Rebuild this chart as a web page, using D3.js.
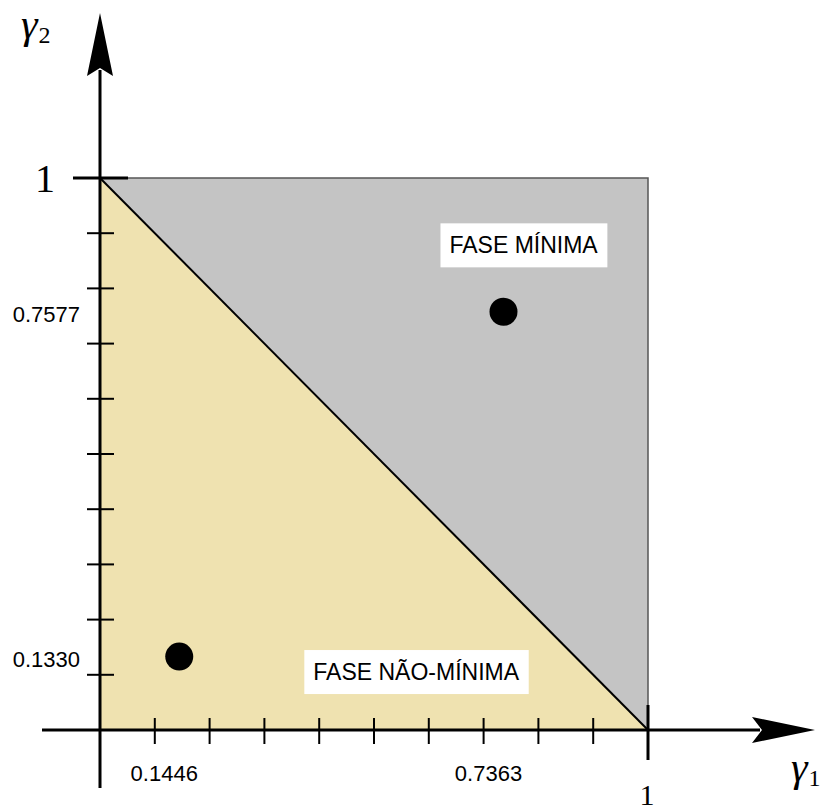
<!DOCTYPE html>
<html>
<head>
<meta charset="utf-8">
<script src="https://cdn.jsdelivr.net/npm/d3@7/dist/d3.min.js"></script>
<style>
  html, body { margin: 0; padding: 0; background: #fff; }
  svg { display: block; }
</style>
</head>
<body>
<svg id="chart" width="829" height="812"></svg>
<script>
// Minor ticks on both axes (tenths of the unit square)
const minorTicks = [0.1, 0.2, 0.3, 0.4, 0.5, 0.6, 0.7, 0.8, 0.9];
// Plant parameter points (gamma1, gamma2)
const gamma1Values = [0.1446, 0.7363];
const gamma2Values = [0.1330, 0.7577];
// Labelled coordinates on each axis
const xLabelValues = ["0.1446", "0.7363"];
const yLabelValues = ["0.7577", "0.1330"];
// Region names
const regionNames = ["FASE MÍNIMA", "FASE NÃO-MÍNIMA"];

const svg = d3.select("#chart");
const x = d3.scaleLinear().domain([0, 1]).range([100, 648]);
const y = d3.scaleLinear().domain([0, 1]).range([730, 178]);

const pt = (a, b) => [x(a), y(b)];
const line = d3.line();

// Minimum-phase region (above the diagonal)
svg.append("path")
  .attr("d", line([pt(0, 1), pt(1, 1), pt(1, 0)]) + "Z")
  .attr("fill", "#c4c4c4");
// Non-minimum-phase region (below the diagonal)
svg.append("path")
  .attr("d", line([pt(0, 0), pt(0, 1), pt(1, 0)]) + "Z")
  .attr("fill", "#efe2b0");
// Outer edges of the gray square
svg.append("path")
  .attr("d", line([pt(0, 1), pt(1, 1), pt(1, 0)]))
  .attr("fill", "none").attr("stroke", "#555").attr("stroke-width", 1.5);
// Boundary gamma1 + gamma2 = 1
svg.append("path")
  .attr("d", line([pt(0, 1), pt(1, 0)]))
  .attr("stroke", "#000").attr("stroke-width", 2);

// Region labels on white boxes
const regionPos = [[0.773, 0.878], [0.577, 0.105]];
regionNames.forEach((name, i) => {
  const [cx, cy] = pt(regionPos[i][0], regionPos[i][1]);
  const g = svg.append("g");
  const t = g.append("text")
    .attr("x", cx).attr("y", cy)
    .attr("text-anchor", "middle").attr("dominant-baseline", "central")
    .attr("font-family", "Liberation Sans, Arial, sans-serif")
    .attr("font-size", 23).attr("fill", "#000")
    .text(name);
  const bb = t.node().getBBox();
  g.insert("rect", "text")
    .attr("x", bb.x - 9).attr("y", cy - 22)
    .attr("width", bb.width + 18).attr("height", 44)
    .attr("fill", "#fff");
});

// Axes
const axisColor = "#000";
svg.append("line").attr("x1", x(0)).attr("x2", x(0)).attr("y1", 70).attr("y2", 788)
  .attr("stroke", axisColor).attr("stroke-width", 3);
svg.append("line").attr("x1", 42).attr("x2", 760).attr("y1", y(0)).attr("y2", y(0))
  .attr("stroke", axisColor).attr("stroke-width", 3);

// Arrowheads
svg.append("path")
  .attr("d", `M${x(0)},13 L${x(0) + 13},76 L${x(0)},68 L${x(0) - 13},76 Z`)
  .attr("fill", "#000");
svg.append("path")
  .attr("d", `M815,${y(0)} L752,${y(0) - 13} L762,${y(0)} L752,${y(0) + 13} Z`)
  .attr("fill", "#000");

// Ticks
svg.selectAll(".xt").data(minorTicks).join("line")
  .attr("x1", d => x(d)).attr("x2", d => x(d))
  .attr("y1", y(0) - 12).attr("y2", y(0) + 14)
  .attr("stroke", "#000").attr("stroke-width", 2);
svg.selectAll(".yt").data(minorTicks).join("line")
  .attr("y1", d => y(d)).attr("y2", d => y(d))
  .attr("x1", x(0) - 13).attr("x2", x(0) + 14)
  .attr("stroke", "#000").attr("stroke-width", 2);
// Unit ticks
svg.append("line").attr("x1", x(0) - 27).attr("x2", x(0) + 28)
  .attr("y1", y(1)).attr("y2", y(1)).attr("stroke", "#000").attr("stroke-width", 3);
svg.append("line").attr("x1", x(1)).attr("x2", x(1))
  .attr("y1", y(0) - 25).attr("y2", y(0) + 30).attr("stroke", "#000").attr("stroke-width", 3);

// Points
svg.selectAll(".pt").data(gamma1Values).join("circle")
  .attr("cx", (d, i) => x(d)).attr("cy", (d, i) => y(gamma2Values[i]))
  .attr("r", 14).attr("fill", "#000");

// Coordinate labels
const sans = "Liberation Sans, Arial, sans-serif";
xLabelValues.forEach(v => {
  svg.append("text").attr("x", x(+v) - 15).attr("y", 781)
    .attr("text-anchor", "middle").attr("font-family", sans).attr("font-size", 22)
    .text(v);
});
yLabelValues.forEach(v => {
  svg.append("text").attr("x", 80).attr("y", y(+v) + 3)
    .attr("text-anchor", "end").attr("dominant-baseline", "central")
    .attr("font-family", sans).attr("font-size", 22)
    .text(v);
});

// Unit labels
const serif = "Liberation Serif, Times New Roman, serif";
svg.append("text").attr("x", 45).attr("y", 192).attr("text-anchor", "middle")
  .attr("font-family", serif).attr("font-size", 40).text("1");
svg.append("text").attr("x", x(1) - 1).attr("y", 805).attr("text-anchor", "middle")
  .attr("font-family", serif).attr("font-size", 30).text("1");

// Axis names: gamma symbol followed by its subscript index
function axisName(px, py, sub) {
  const g = svg.append("text").attr("x", px).attr("y", py)
    .attr("font-family", serif).attr("font-size", 42).attr("font-style", "italic")
    .text("γ");
  const w = g.node().getComputedTextLength();
  svg.append("text").attr("x", px + w + 1).attr("y", py + 5)
    .attr("font-family", serif).attr("font-size", 24).text(sub);
}
axisName(21, 38, "2");
axisName(791, 781, "1");
</script>
</body>
</html>
